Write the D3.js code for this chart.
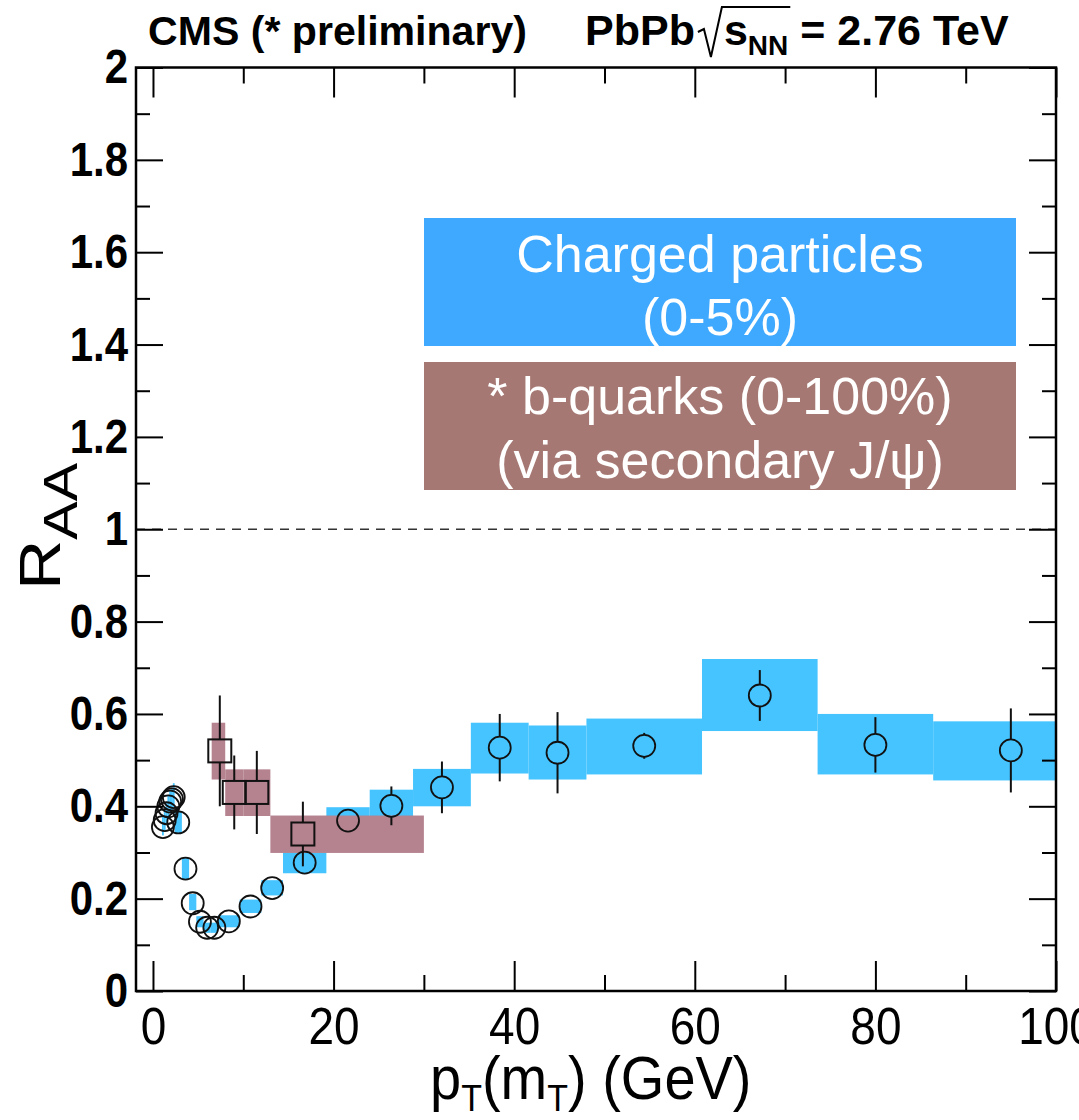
<!DOCTYPE html>
<html>
<head>
<meta charset="utf-8">
<script src="https://cdn.jsdelivr.net/npm/d3@7"></script>
<style>
  body { margin: 0; background: #fff; }
  svg { display: block; font-family: "Liberation Sans", Arial, Helvetica, sans-serif; }
</style>
</head>
<body>
<svg id="chart" width="1079" height="1120"></svg>
<script>
// ---- Charged particles, 0-5% (bin edges, centre, R_AA, stat error, systematic band) ----
const chargedBinLo = [1.0, 1.2, 1.4, 1.6, 1.8, 2.0, 2.2, 2.4, 3.2, 4.0, 4.8, 5.6, 6.4, 7.2, 9.6, 12.0, 14.4, 19.2, 24.0, 28.8, 35.2, 41.6, 48.0, 60.8, 73.6, 86.4];
const chargedBinHi = [1.2, 1.4, 1.6, 1.8, 2.0, 2.2, 2.4, 3.2, 4.0, 4.8, 5.6, 6.4, 7.2, 9.6, 12.0, 14.4, 19.2, 24.0, 28.8, 35.2, 41.6, 48.0, 60.8, 73.6, 86.4, 103.6];
const chargedPt    = [1.1, 1.3, 1.5, 1.7, 1.9, 2.1, 2.3, 2.8, 3.6, 4.4, 5.2, 6.0, 6.8, 8.4, 10.8, 13.2, 16.8, 21.6, 26.4, 32.0, 38.4, 44.8, 54.4, 67.2, 80.0, 95.0];
const chargedRaa   = [0.355, 0.37, 0.385, 0.40, 0.41, 0.415, 0.42, 0.365, 0.265, 0.19, 0.15, 0.137, 0.137, 0.151, 0.183, 0.223, 0.278, 0.369, 0.401, 0.441, 0.527, 0.516, 0.531, 0.640, 0.533, 0.521];
const chargedStat  = [0.003, 0.003, 0.003, 0.003, 0.003, 0.003, 0.003, 0.003, 0.003, 0.003, 0.003, 0.003, 0.003, 0.003, 0.004, 0.005, 0.010, 0.012, 0.042, 0.056, 0.073, 0.088, 0.028, 0.055, 0.060, 0.091];
const chargedSysLo = [0.337, 0.345, 0.36, 0.375, 0.385, 0.39, 0.395, 0.34, 0.242, 0.175, 0.138, 0.126, 0.126, 0.138, 0.169, 0.207, 0.255, 0.34, 0.365, 0.40, 0.471, 0.458, 0.469, 0.563, 0.469, 0.456];
const chargedSysHi = [0.38, 0.395, 0.41, 0.425, 0.435, 0.44, 0.45, 0.39, 0.288, 0.21, 0.162, 0.148, 0.148, 0.164, 0.198, 0.240, 0.30, 0.398, 0.436, 0.481, 0.581, 0.575, 0.59, 0.719, 0.60, 0.584];

// ---- b-quarks via secondary J/psi, 0-100% ----
const bBinLo  = [6.5, 8.0, 10.0, 13.0];
const bBinHi  = [8.0, 10.0, 13.0, 30.0];
const bPt     = [7.4, 9.0, 11.5, 16.6];
const bRaa    = [0.52, 0.43, 0.43, 0.34];
const bStat   = [0.12, 0.08, 0.09, 0.07];
const bSysLo  = [0.458, 0.379, 0.379, 0.299];
const bSysHi  = [0.581, 0.48, 0.48, 0.38];

// ---- axis ticks ----
const xMajorTicks = [0, 20, 40, 60, 80, 100];
const xMinorTicks = [10, 30, 50, 70, 90];
const yMajorTicks = [0, 0.2, 0.4, 0.6, 0.8, 1.0, 1.2, 1.4, 1.6, 1.8, 2.0];
const yMinorTicks = [0.1, 0.3, 0.5, 0.7, 0.9, 1.1, 1.3, 1.5, 1.7, 1.9];

const COL_CH_BOX = "#45c4ff";
const COL_B_BOX  = "#b5828f";
const COL_CH_LEG = "#3fa9ff";
const COL_B_LEG  = "#a67873";

const svg = d3.select("#chart");

const x = d3.scaleLinear().domain([-1.88, 100]).range([136, 1056]);
const y = d3.scaleLinear().domain([0, 2]).range([991, 67.5]);
const [X0, X1] = x.range();
const [Y0, Y1] = y.range();

const charged = chargedPt.map((p, i) => ({
  pt: p, lo: chargedBinLo[i], hi: chargedBinHi[i], v: chargedRaa[i],
  e: chargedStat[i], sLo: chargedSysLo[i], sHi: chargedSysHi[i]
}));
const bq = bPt.map((p, i) => ({
  pt: p, lo: bBinLo[i], hi: bBinHi[i], v: bRaa[i],
  e: bStat[i], sLo: bSysLo[i], sHi: bSysHi[i]
}));

// clip everything data-related to the frame
svg.append("clipPath").attr("id", "frame")
  .append("rect").attr("x", X0).attr("y", Y1).attr("width", X1 - X0).attr("height", Y0 - Y1);

const plot = svg.append("g").attr("clip-path", "url(#frame)");

// systematic bands
plot.append("g").selectAll("rect").data(charged).join("rect")
  .attr("x", d => x(d.lo)).attr("width", d => x(d.hi) - x(d.lo))
  .attr("y", d => y(d.sHi)).attr("height", d => y(d.sLo) - y(d.sHi))
  .attr("fill", COL_CH_BOX);
plot.append("g").selectAll("rect").data(bq).join("rect")
  .attr("x", d => x(d.lo)).attr("width", d => x(d.hi) - x(d.lo))
  .attr("y", d => y(d.sHi)).attr("height", d => y(d.sLo) - y(d.sHi))
  .attr("fill", COL_B_BOX);

// reference line at R_AA = 1
plot.append("line")
  .attr("x1", X0).attr("x2", X1).attr("y1", y(1)).attr("y2", y(1))
  .attr("stroke", "#333").attr("stroke-width", 1.4).attr("stroke-dasharray", "9,7");

// statistical error bars, drawn outside the marker only
function errorBars(g, data, half) {
  const segs = [];
  data.forEach(d => {
    const cy = y(d.v), top = y(d.v + d.e), bot = y(d.v - d.e);
    if (top < cy - half) segs.push({ x: x(d.pt), y1: top, y2: cy - half });
    if (bot > cy + half) segs.push({ x: x(d.pt), y1: cy + half, y2: bot });
  });
  g.selectAll("line").data(segs).join("line")
    .attr("x1", d => d.x).attr("x2", d => d.x)
    .attr("y1", d => d.y1).attr("y2", d => d.y2)
    .attr("stroke", "#111").attr("stroke-width", 2);
}
const R = 11, S = 11.5;
errorBars(plot.append("g"), charged, R);
errorBars(plot.append("g"), bq, S);

// markers
plot.append("g").selectAll("circle").data(charged).join("circle")
  .attr("cx", d => x(d.pt)).attr("cy", d => y(d.v)).attr("r", R)
  .attr("fill", "none").attr("stroke", "#111").attr("stroke-width", 1.8);
plot.append("g").selectAll("rect").data(bq).join("rect")
  .attr("x", d => x(d.pt) - S).attr("y", d => y(d.v) - S)
  .attr("width", 2 * S).attr("height", 2 * S)
  .attr("fill", "none").attr("stroke", "#111").attr("stroke-width", 2);

// ---- axes ----
function styleAxis(g) {
  g.select(".domain").remove();
  g.selectAll(".tick line").attr("stroke", "#000").attr("stroke-width", 2);
}
const fmtY = d => String(Math.round(d * 10) / 10);

svg.append("g").attr("transform", `translate(0,${Y0})`)
  .call(d3.axisBottom(x).tickValues(xMajorTicks).tickSize(-30).tickPadding(15))
  .call(styleAxis)
  .call(g => g.selectAll("text").attr("font-size", 46).attr("fill", "#000")
    .attr("transform", "scale(1,1.12)")
    .attr("font-family", "Liberation Sans, Arial, sans-serif"));
svg.append("g").attr("transform", `translate(0,${Y0})`)
  .call(d3.axisBottom(x).tickValues(xMinorTicks).tickSize(-16).tickFormat(""))
  .call(styleAxis);
svg.append("g").attr("transform", `translate(0,${Y1})`)
  .call(d3.axisTop(x).tickValues(xMajorTicks).tickSize(-30).tickFormat(""))
  .call(styleAxis);
svg.append("g").attr("transform", `translate(0,${Y1})`)
  .call(d3.axisTop(x).tickValues(xMinorTicks).tickSize(-16).tickFormat(""))
  .call(styleAxis);

svg.append("g").attr("transform", `translate(${X0},0)`)
  .call(d3.axisLeft(y).tickValues(yMajorTicks).tickSize(-27).tickPadding(8).tickFormat(fmtY))
  .call(styleAxis)
  .call(g => g.selectAll("text").attr("font-size", 42).attr("font-weight", "bold").attr("fill", "#000")
    .attr("transform", "scale(1,1.15)")
    .attr("font-family", "Liberation Sans, Arial, sans-serif"));
svg.append("g").attr("transform", `translate(${X0},0)`)
  .call(d3.axisLeft(y).tickValues(yMinorTicks).tickSize(-14).tickFormat(""))
  .call(styleAxis);
svg.append("g").attr("transform", `translate(${X1},0)`)
  .call(d3.axisRight(y).tickValues(yMajorTicks).tickSize(-27).tickFormat(""))
  .call(styleAxis);
svg.append("g").attr("transform", `translate(${X1},0)`)
  .call(d3.axisRight(y).tickValues(yMinorTicks).tickSize(-14).tickFormat(""))
  .call(styleAxis);

// frame
svg.append("rect").attr("x", X0).attr("y", Y1).attr("width", X1 - X0).attr("height", Y0 - Y1)
  .attr("fill", "none").attr("stroke", "#000").attr("stroke-width", 2.5);

// ---- axis titles ----
const xt = svg.append("text").attr("transform", "translate(430,1099) scale(1,1.1)")
  .attr("font-size", 56).attr("fill", "#000");
xt.append("tspan").text("p");
xt.append("tspan").attr("font-size", 34).attr("dy", 11).text("T");
xt.append("tspan").attr("dy", -11).text("(m");
xt.append("tspan").attr("font-size", 34).attr("dy", 11).text("T");
xt.append("tspan").attr("dy", -11).text(") (GeV)");

const yt = svg.append("text").attr("transform", "translate(60,590) rotate(-90) scale(1.2,1)")
  .attr("font-size", 58).attr("fill", "#000");
yt.append("tspan").text("R");
yt.append("tspan").attr("font-size", 48).attr("dy", 17).text("AA");

// ---- header ----
svg.append("text").attr("x", 148).attr("y", 45).attr("font-size", 40).attr("font-weight", "bold")
  .attr("textLength", 379).attr("lengthAdjust", "spacingAndGlyphs")
  .text("CMS (* preliminary)");

const hdr = svg.append("g").attr("font-weight", "bold").attr("fill", "#000");
const tPb = hdr.append("text").attr("x", 585).attr("y", 45).attr("font-size", 43).text("PbPb");
const cx = 585 + tPb.node().getComputedTextLength() + 3;
// radical sign over s_NN
const radW = 24;
const tS = hdr.append("text").attr("x", cx + radW + 2).attr("y", 45).attr("font-size", 43);
tS.append("tspan").text("s");
tS.append("tspan").attr("font-size", 28).attr("dy", 10).text("NN");
const sW = tS.node().getComputedTextLength();
hdr.append("path")
  .attr("d", `M${cx},${32} L${cx + 6},${29} L${cx + 13},${57} L${cx + radW},${7} L${cx + radW + 4 + sW},${7}`)
  .attr("fill", "none").attr("stroke", "#000").attr("stroke-width", 2);
const tEq = hdr.append("text").attr("x", cx + radW + 14 + sW).attr("y", 45).attr("font-size", 43).text("= 2.76 TeV");
const eqEnd = cx + radW + 14 + sW + tEq.node().getComputedTextLength();
if (eqEnd > 1012) tEq.attr("textLength", 1012 - (cx + radW + 14 + sW)).attr("lengthAdjust", "spacingAndGlyphs");

// ---- legend boxes ----
const leg = svg.append("g").attr("fill", "#fff").attr("font-size", 52).attr("text-anchor", "middle");
leg.append("rect").attr("x", 424).attr("y", 218).attr("width", 592).attr("height", 128).attr("fill", COL_CH_LEG);
leg.append("rect").attr("x", 424).attr("y", 362).attr("width", 592).attr("height", 128).attr("fill", COL_B_LEG);
leg.append("text").attr("x", 720).attr("y", 272).text("Charged particles");
leg.append("text").attr("x", 720).attr("y", 335).text("(0-5%)");
leg.append("text").attr("x", 720).attr("y", 414).text("* b-quarks (0-100%)");
leg.append("text").attr("x", 720).attr("y", 478).text("(via secondary J/ψ)");
</script>
</body>
</html>
